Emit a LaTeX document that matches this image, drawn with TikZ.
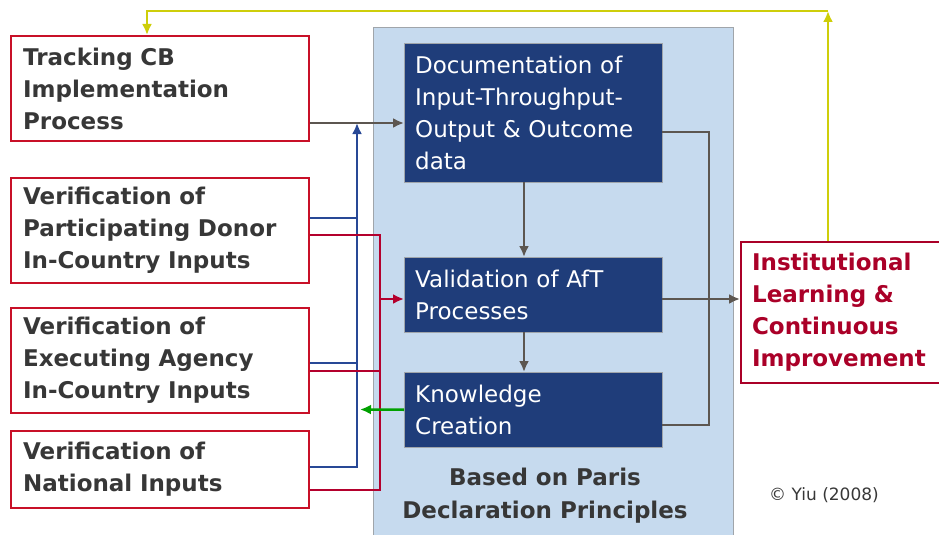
\documentclass[tikz,border=0pt]{standalone}
\usepackage{fontspec}
\setmainfont{DejaVu Sans}
\usetikzlibrary{arrows.meta}
\usetikzlibrary{positioning}

\definecolor{boxred}{RGB}{200,16,40}
\definecolor{darkred}{RGB}{170,0,40}
\definecolor{navy}{RGB}{31,61,122}
\definecolor{panelblue}{RGB}{198,218,238}
\definecolor{panelline}{RGB}{160,165,170}
\definecolor{wire}{RGB}{92,86,80}
\definecolor{busblue}{RGB}{40,72,150}
\definecolor{busred}{RGB}{180,0,45}
\definecolor{fbgreen}{RGB}{0,160,0}
\definecolor{fbyellow}{RGB}{206,206,10}
\definecolor{txt}{RGB}{55,55,55}

\tikzset{
  inputbox/.style={draw=boxred, line width=2.2pt, anchor=north west, align=left,
    text width=274pt, inner xsep=12pt, inner ysep=0pt, minimum width=298pt,
    text=txt, font=\fontsize{23}{32}\selectfont\bfseries},
  stepbox/.style={fill=navy, draw=panelline, line width=0.4pt, anchor=north west,
    align=left, text width=236pt, inner xsep=11pt, inner ysep=0pt,
    minimum width=258pt, text=white, font=\fontsize{23}{32}\selectfont},
  outbox/.style={draw=darkred, line width=2.2pt, anchor=north west, align=left,
    text width=180pt, inner xsep=11pt, inner ysep=0pt, minimum width=198pt,
    minimum height=141pt, text=darkred, font=\fontsize{23}{32}\selectfont\bfseries},
  wireline/.style={draw=wire, line width=2.6pt},
  blueline/.style={draw=busblue, line width=2.4pt},
  redline/.style={draw=busred, line width=2.4pt},
  >={Latex[length=11pt,width=10pt]}
}

\begin{document}
\begin{tikzpicture}[x=1pt,y=-1pt]
\useasboundingbox (0,0) rectangle (939,535);
\begin{scope}
\clip (0,0) rectangle (939,535);
\node[fill=panelblue, draw=panelline, line width=0.8pt, anchor=north west,
  minimum width=360pt, minimum height=520pt, inner sep=0pt] (panel) at (373,27) {};
\end{scope}

% inputs on the left
\node[inputbox, minimum height=105pt] (track) at (10,35)
  {Tracking CB\\Implementation\\Process};
\node[inputbox, minimum height=105pt] (donor) at (10,177)
  {Verification of\\Participating Donor\\In-Country Inputs};
\node[inputbox, minimum height=105pt] (agency) at (10,307)
  {Verification of\\Executing Agency\\In-Country Inputs};
\node[inputbox, minimum height=77pt] (national) at (10,430)
  {Verification of\\National Inputs};

% steps in the panel
\node[stepbox, minimum height=139pt] (docu) at (404,43)
  {Documentation of\\Input-Throughput-\\Output \& Outcome\\data};
\node[stepbox, minimum height=75pt] (valid) at (404,257)
  {Validation of AfT\\Processes};
\node[stepbox, minimum height=75pt] (know) at (404,372)
  {Knowledge\\Creation};
\node[align=center, text=txt, font=\fontsize{23}{33}\selectfont\bfseries] (basis) at (545,496)
  {Based on Paris\\Declaration Principles};

\node[outbox] (learn) at (740,241)
  {Institutional\\Learning \&\\Continuous\\Improvement};
\node[text=txt, font=\fontsize{17}{18}\selectfont] (yiu) at (824,495) {© Yiu (2008)};

% blue bus
\draw[blueline] (donor.east |- 0,218) -- (357,218);
\draw[blueline] (agency.east |- 0,363) -- (357,363);
\draw[blueline,->] (national.east |- 0,467) -- (357,467) -- (357,123);
% red bus
\draw[redline] (donor.east |- 0,235) -- (380,235) -- (380,490) -- (national.east |- 0,490);
\draw[redline] (agency.east |- 0,371) -- (380,371);
\draw[redline,->] (380,299) -- (valid.west |- 0,299);

\draw[wireline,->] (track.east |- 0,123) -- (docu.west |- 0,123);
\draw[wireline,->] (docu.south -| 524,0) -- (valid.north -| 524,0);
\draw[wireline,->] (valid.south -| 524,0) -- (know.north -| 524,0);
\draw[wireline] (docu.east |- 0,132) -- (709,132) -- (709,425) -- (know.east |- 0,425);
\draw[wireline,->] (valid.east |- 0,299) -- (learn.west |- 0,299);
\draw[draw=fbgreen, line width=2.6pt,->] (know.west) -- (360,409.5);

% feedback loop
\draw[draw=fbyellow, line width=2.6pt,->] (learn.north -| 828,0) -- (828,11);
\draw[draw=fbyellow, line width=2.6pt,->] (828,11) -- (147,11) -- (track.north -| 147,0);
\end{tikzpicture}
\end{document}
